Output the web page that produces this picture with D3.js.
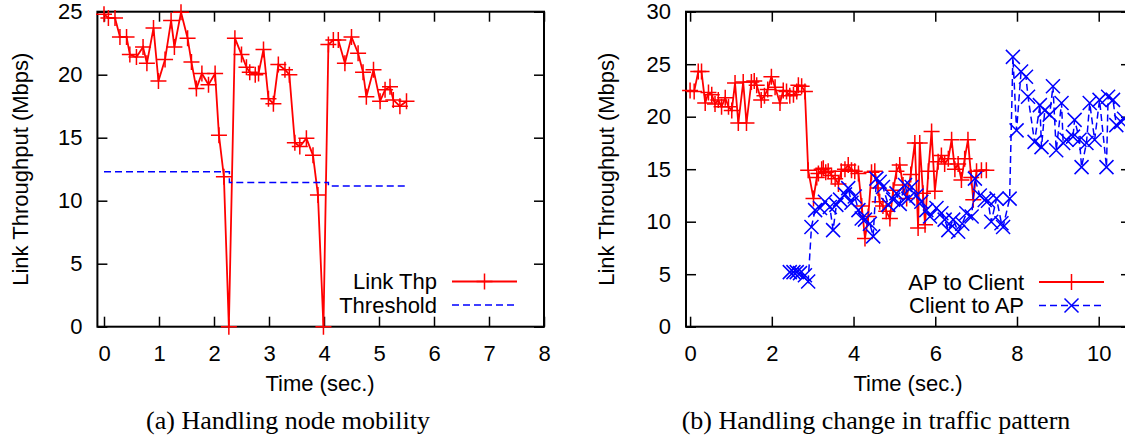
<!DOCTYPE html>
<html>
<head>
<meta charset="utf-8">
<script src="https://cdn.jsdelivr.net/npm/d3@7"></script>
<style>
  body { margin: 0; background: #fff; }
  .tick text { font-family: "Liberation Sans", Arial, sans-serif; font-size: 22px; fill: #000; }
  .lbl { font-family: "Liberation Sans", Arial, sans-serif; font-size: 22px; fill: #000; }
  .cap { font-family: "Liberation Serif", "Times New Roman", serif; font-size: 26px; fill: #000; }
</style>
</head>
<body>
<div id="graph"></div>
<script>
// (a) node mobility
const thpTime = [0.0, 0.08, 0.2, 0.29, 0.41, 0.47, 0.59, 0.71, 0.78, 0.9, 0.99, 1.11, 1.22, 1.28, 1.4, 1.52, 1.59, 1.68, 1.78, 1.9, 2.02, 2.09, 2.18, 2.27,
  2.38, 2.5, 2.59, 2.65, 2.75, 2.81, 2.9, 2.99, 3.08, 3.17, 3.29, 3.37, 3.47, 3.56, 3.68, 3.8, 3.89, 3.99,
  4.08, 4.17, 4.26, 4.38, 4.5, 4.62, 4.71, 4.77, 4.9, 5.02, 5.11, 5.2, 5.26, 5.38, 5.5];
const thpValue = [24.8, 24.5, 24.5, 23.0, 23.0, 21.6, 21.4, 22.2, 20.9, 23.7, 19.5, 21.2, 24.3, 22.2, 24.95, 22.9, 21.0, 18.9, 20.1, 19.2, 20.1, 15.2, 11.9, 0,
  22.9, 21.6, 20.6, 20.2, 20.0, 20.1, 22.0, 18.1, 17.7, 20.8, 20.4, 20.0, 14.6, 14.3, 14.95, 13.6, 10.45, 0,
  22.4, 22.75, 22.75, 20.9, 23.0, 21.7, 20.2, 18.25, 20.4, 17.9, 18.8, 19.05, 18.0, 17.5, 17.9];
const thrTime = [0, 2.28, 2.28, 4.08, 4.08, 5.5];
const thrValue = [12.3, 12.3, 11.45, 11.45, 11.17, 11.17];
const aTicksX = [0, 1, 2, 3, 4, 5, 6, 7, 8];
const aTicksY = [0, 5, 10, 15, 20, 25];

// (b) traffic pattern
const apTime = [0.0, 0.1, 0.2, 0.28, 0.37, 0.45, 0.53, 0.61, 0.69, 0.77, 0.86, 0.94, 1.02, 1.1, 1.18, 1.3, 1.38, 1.5, 1.57, 1.63, 1.74, 1.82, 1.9, 1.99,
  2.08, 2.2, 2.28, 2.36, 2.44, 2.53, 2.61, 2.65, 2.73, 2.81, 2.89, 3.02, 3.1, 3.14, 3.22, 3.26, 3.32, 3.38, 3.46, 3.55, 3.63, 3.7, 3.79, 3.87, 3.95,
  4.03, 4.12, 4.2, 4.28, 4.36, 4.44, 4.52, 4.6, 4.64, 4.72, 4.8, 4.89, 4.97, 5.05, 5.13, 5.21, 5.3, 5.4, 5.5, 5.58, 5.62, 5.7, 5.75, 5.83, 5.91, 5.99,
  6.07, 6.15, 6.23, 6.32, 6.4, 6.48, 6.56, 6.64, 6.72, 6.8, 6.88, 6.93, 7.01, 7.13, 7.25];
const apValue = [22.5, 22.4, 24.3, 24.3, 21.3, 22.3, 22.1, 21.2, 21.6, 20.95, 21.8, 20.95, 20.6, 23.2, 19.4, 23.3, 19.4, 23.3, 23.4, 23.0, 21.6, 22.0, 22.6, 23.8,
  22.8, 21.3, 22.5, 22.4, 22.0, 22.1, 22.4, 23.0, 22.9, 22.4, 14.9, 12.2, 14.2, 14.6, 15.0, 15.1, 14.7, 14.8, 14.4, 14.1, 13.6, 14.8, 15.0, 15.4, 14.9,
  14.8, 14.6, 11.5, 8.4, 10.5, 14.7, 14.8, 13.2, 11.9, 11.5, 11.0, 10.3, 13.0, 14.8, 15.4, 13.5, 12.2, 14.5, 17.5, 9.4, 17.5, 12.7, 9.7, 14.8, 18.6, 12.9,
  15.7, 16.3, 15.5, 16.0, 17.8, 15.0, 15.5, 13.97, 16.0, 17.8, 14.2, 12.1, 14.8, 14.9, 14.9];
const clTime = [2.44, 2.53, 2.61, 2.69, 2.81, 2.89, 2.97, 3.06, 3.18, 3.3, 3.42, 3.5, 3.58, 3.67, 3.79, 3.87, 3.95, 4.03, 4.12, 4.2, 4.28, 4.4, 4.48,
  4.56, 4.64, 4.72, 4.85, 4.97, 5.05, 5.13, 5.26, 5.34, 5.42, 5.54, 5.66, 5.78, 5.87, 6.03, 6.15, 6.23, 6.32, 6.44, 6.56, 6.66, 6.76, 6.89, 6.97,
  7.09, 7.21, 7.29, 7.37, 7.5, 7.62, 7.66, 7.82, 7.9, 7.99, 8.1, 8.22, 8.27, 8.43, 8.56, 8.6, 8.68, 8.8, 8.88, 8.96, 9.09, 9.13, 9.21, 9.37, 9.41,
  9.53, 9.58, 9.7, 9.78, 9.9, 10.02, 10.19, 10.23, 10.35, 10.43, 10.55, 10.62];
const clValue = [5.2, 5.2, 5.2, 5.1, 4.9, 4.3, 9.5, 11.1, 11.3, 11.9, 11.4, 9.2, 11.6, 12.1, 12.6, 13.2, 11.8, 12.4, 11.1, 10.3, 10.2, 9.8, 8.6,
  14.1, 13.8, 13.3, 11.6, 12.1, 12.7, 11.7, 13.5, 12.2, 13.3, 12.5, 11.9, 11.1, 10.5, 11.3, 10.8, 10.2, 9.2, 10.2, 9.05, 9.8, 10.8, 10.5, 14.1,
  12.5, 12.07, 12.0, 10.0, 12.2, 9.85, 9.5, 12.2, 25.7, 18.7, 24.3, 23.8, 21.9, 17.6, 21.1, 17.1, 20.6, 20.2, 22.9, 16.8, 21.3, 17.5, 17.8, 18.1, 19.7,
  17.8, 15.2, 17.5, 21.3, 17.8, 21.6, 15.2, 21.9, 21.6, 19.2, 19.5, 19.8];
const bTicksX = [0, 2, 4, 6, 8, 10];
const bTicksY = [0, 5, 10, 15, 20, 25, 30];

const width = 1125, height = 437;
const yTop = 11.7, yBottom = 326.7, tickLen = 10;
const svg = d3.select("#graph").append("svg").attr("width", width).attr("height", height);

const plus = "M-8,0H8M0,-8V8";
const cross = "M-7,-7L7,7M-7,7L7,-7";

function panel(o) {
  const x = d3.scaleLinear().domain(o.xDom).range([o.left, o.right]);
  const y = d3.scaleLinear().domain(o.yDom).range([yBottom, yTop]);
  const g = svg.append("g");

  // ticks on all four sides, pointing inward (gnuplot mirror)
  const axB = g.append("g").attr("transform", "translate(0," + yBottom + ")")
    .call(d3.axisBottom(x).tickValues(o.ticksX).tickSizeInner(-tickLen).tickSizeOuter(0).tickPadding(19));
  const axT = g.append("g").attr("transform", "translate(0," + yTop + ")")
    .call(d3.axisTop(x).tickValues(o.ticksX).tickSizeInner(-tickLen).tickSizeOuter(0).tickFormat(""));
  const axL = g.append("g").attr("transform", "translate(" + o.left + ",0)")
    .call(d3.axisLeft(y).tickValues(o.ticksY).tickSizeInner(-tickLen).tickSizeOuter(0).tickPadding(15));
  const axR = g.append("g").attr("transform", "translate(" + o.right + ",0)")
    .call(d3.axisRight(y).tickValues(o.ticksY).tickSizeInner(-tickLen).tickSizeOuter(0).tickFormat(""));
  [axB, axT, axL, axR].forEach(a => {
    a.select(".domain").remove();
    a.selectAll(".tick line").attr("stroke", "#000").attr("stroke-width", 1.5);
  });

  g.append("rect").attr("x", o.left).attr("y", yTop).attr("width", o.right - o.left).attr("height", yBottom - yTop)
    .attr("fill", "none").attr("stroke", "#000").attr("stroke-width", 2);

  const line = d3.line().x(d => x(d[0])).y(d => y(d[1]));

  o.series.forEach(s => {
    const pts = s.t.map((t, i) => [t, s.v[i]]);
    g.append("path").datum(pts).attr("d", line).attr("fill", "none")
      .attr("stroke", s.color).attr("stroke-width", s.dash ? 1.5 : 1.8)
      .attr("stroke-dasharray", s.dash || null);
    if (s.marker) {
      g.selectAll(null).data(pts).enter().append("path")
        .attr("transform", d => "translate(" + x(d[0]) + "," + y(d[1]) + ")")
        .attr("d", s.marker).attr("fill", "none").attr("stroke", s.color).attr("stroke-width", 1.5);
    }
  });

  // legend
  o.series.forEach((s, i) => {
    const ly = o.legY + i * 23.5;
    g.append("text").attr("class", "lbl").attr("x", o.legX).attr("y", ly).attr("dy", "0.35em")
      .attr("text-anchor", "end").text(s.name);
    g.append("line").attr("x1", o.legX + 15).attr("x2", o.legX + 80).attr("y1", ly).attr("y2", ly)
      .attr("stroke", s.color).attr("stroke-width", s.dash ? 1.5 : 1.8).attr("stroke-dasharray", s.dash || null);
    if (s.marker) {
      g.append("path").attr("transform", "translate(" + (o.legX + 47.5) + "," + ly + ")")
        .attr("d", s.marker).attr("fill", "none").attr("stroke", s.color).attr("stroke-width", 1.5);
    }
  });

  g.append("text").attr("class", "lbl").attr("text-anchor", "middle")
    .attr("transform", "translate(" + o.yLabX + "," + ((yTop + yBottom) / 2) + ") rotate(-90)")
    .attr("dy", "0.35em").text("Link Throughput (Mbps)");
  g.append("text").attr("class", "lbl").attr("text-anchor", "middle")
    .attr("x", o.xLabX).attr("y", 391).text("Time (sec.)");
  g.append("text").attr("class", "cap").attr("text-anchor", "middle")
    .attr("x", o.capX).attr("y", 429).text(o.caption);
}

panel({
  left: 97.4, right: 544, xDom: [-0.12, 8], yDom: [0, 25], ticksX: aTicksX, ticksY: aTicksY,
  legX: 437, legY: 281.5, yLabX: 20, xLabX: 320, capX: 288, caption: "(a) Handling node mobility",
  series: [
    {name: "Link Thp", t: thpTime, v: thpValue, color: "#ff0000", marker: plus},
    {name: "Threshold", t: thrTime, v: thrValue, color: "#0000ff", dash: "7,4"}
  ]
});

panel({
  left: 686, right: 1131, xDom: [-0.1, 10.79], yDom: [0, 30], ticksX: bTicksX, ticksY: bTicksY,
  legX: 1024, legY: 282, yLabX: 606, xLabX: 908, capX: 876, caption: "(b) Handling change in traffic pattern",
  series: [
    {name: "AP to Client", t: apTime, v: apValue, color: "#ff0000", marker: plus},
    {name: "Client to AP", t: clTime, v: clValue, color: "#0000ff", marker: cross, dash: "7,4"}
  ]
});
</script>
</body>
</html>
